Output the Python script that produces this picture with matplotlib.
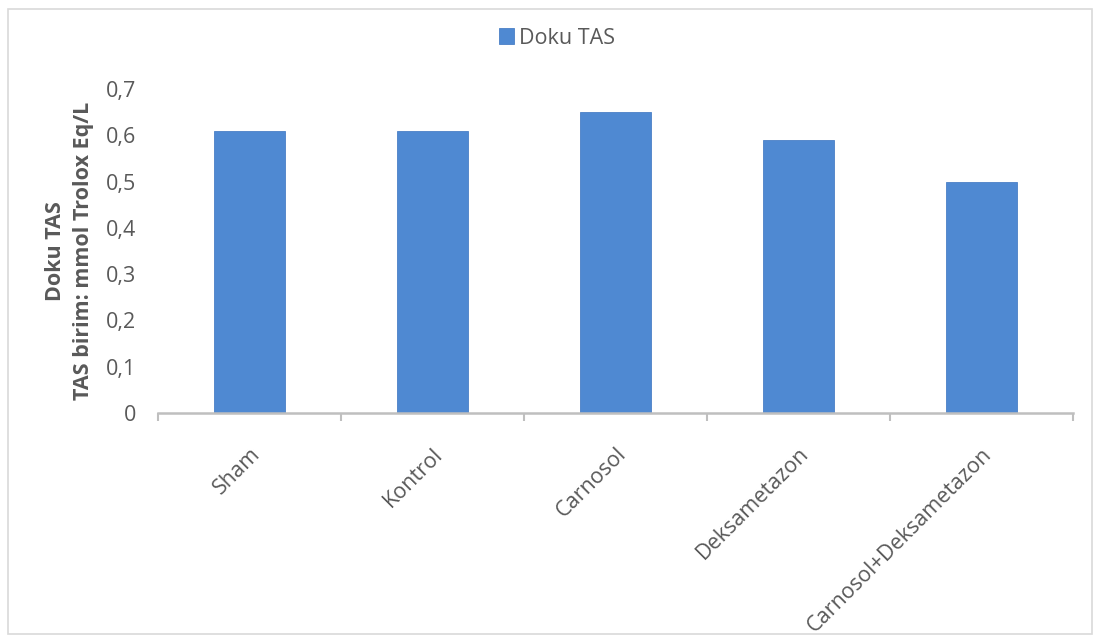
import matplotlib.pyplot as plt
from matplotlib.patches import Rectangle
import numpy as np

categories = ["Sham", "Kontrol", "Carnosol", "Deksametazon", "Carnosol+Deksametazon"]
values = [0.61, 0.61, 0.65, 0.59, 0.50]
yticks = [0, 0.1, 0.2, 0.3, 0.4, 0.5, 0.6, 0.7]
ytick_labels = ["0", "0,1", "0,2", "0,3", "0,4", "0,5", "0,6", "0,7"]
series_name = "Doku TAS"
ylabel = "Doku TAS\nTAS birim: mmol Trolox Eq/L"

plt.rcParams['font.family'] = ['Open Sans', 'DejaVu Sans']
text_color = "#595959"
axis_color = "#bfbfbf"
bar_color = "#4f89d2"
fs = 15.5

fig = plt.figure(figsize=(11.03, 6.44), dpi=100)
fig.patch.set_facecolor("white")

# outer chart border
fig.patches.append(Rectangle((8 / 1103, 10 / 644), 1084 / 1103, 625 / 644,
                             transform=fig.transFigure, fill=False,
                             edgecolor="#d9d9d9", linewidth=1.2))

ax = fig.add_axes([158 / 1103, 1 - 413 / 644, 915 / 1103, (413 - 89) / 644])
x = np.arange(len(categories))
ax.bar(x, values, width=0.39, color=bar_color, edgecolor="#4a80c6",
       linewidth=0.6, label=series_name, zorder=2)

ax.set_xlim(-0.5, len(categories) - 0.5)
ax.set_ylim(0, 0.7)
ax.set_yticks(yticks)
ax.set_yticklabels(ytick_labels, fontsize=fs, color=text_color)
ax.tick_params(axis="y", length=0, pad=16)

# category boundary ticks on the x axis
ax.set_xticks(np.arange(-0.5, len(categories)), minor=False)
ax.set_xticklabels([])
ax.tick_params(axis="x", which="major", length=6, width=1.5, color=axis_color,
               direction="out")
ax.set_xticks(x, minor=True)
ax.set_xticklabels(categories, minor=True, rotation=45, ha="right",
                   va="top", rotation_mode="anchor", fontsize=fs,
                   color=text_color)
ax.tick_params(axis="x", which="minor", length=0, pad=22)

for side in ["top", "right", "left"]:
    ax.spines[side].set_visible(False)
ax.spines["bottom"].set_color(axis_color)
ax.spines["bottom"].set_linewidth(1.8)

ax.set_ylabel(ylabel, fontsize=fs, fontweight="bold", color=text_color,
              labelpad=8, linespacing=1.45)

fig.legend(loc="center", bbox_to_anchor=(557 / 1103, 1 - 38 / 644),
           frameon=False, fontsize=fs, handlelength=0.7, handleheight=0.7,
           handletextpad=0.25, labelcolor=text_color)

fig.savefig("out.png", dpi=100, facecolor="white")
